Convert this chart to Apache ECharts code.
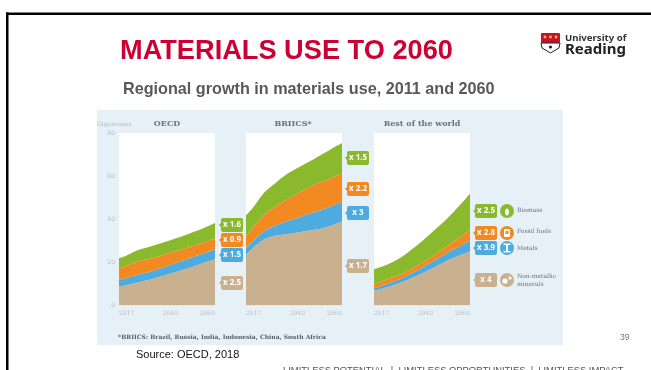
<!DOCTYPE html>
<html>
<head>
<meta charset="utf-8">
<style>html,body{margin:0;padding:0;background:#fff}#c{width:651px;height:370px}</style>
<script src="https://cdn.jsdelivr.net/npm/echarts@6/dist/echarts.min.js"></script>
</head>
<body>
<div id="c"></div>
<script>
// Material use by region, gigatonnes per layer
const years = [2017, 2020, 2025, 2030, 2035, 2040, 2045, 2050, 2055, 2060];
const tickYears = [2017, 2040, 2060];
const regions = ['OECD', 'BRIICS*', 'Rest of the world'];
const materials = ['Non-metallic minerals', 'Metals', 'Fossil fuels', 'Biomass'];

const oecdMinerals = [8.8, 9.4, 10.6, 11.8, 13.2, 14.8, 16.4, 18, 19.8, 21.5];
const oecdMetals = [3, 3.2, 3.6, 3.6, 3.8, 4, 4.2, 4.4, 4.4, 4.5];
const oecdFossil = [5.4, 5.6, 6.2, 6, 5.8, 5.7, 5.4, 5.2, 5.1, 5];
const oecdBiomass = [4.8, 4.8, 5.1, 5.6, 5.8, 5.8, 6, 6.4, 6.7, 7.3];

const briicsMinerals = [23.5, 26.6, 30.5, 32.3, 33, 33.9, 34.8, 35.5, 37, 39];
const briicsMetals = [3.1, 3.1, 3.8, 4.7, 6, 6.7, 7.8, 8.5, 9, 9];
const briicsFossil = [5.4, 6.2, 7.7, 8.8, 10, 11.4, 12.1, 13, 13, 13.2];
const briicsBiomass = [9.8, 9.3, 10.2, 10.8, 11.7, 11.8, 11.9, 12.5, 13.5, 14.2];

const restMinerals = [6.9, 7.6, 9.2, 11, 13.2, 15.7, 18.2, 21, 23.1, 25];
const restMetals = [1.1, 1.3, 1.6, 1.9, 2.3, 2.7, 3.2, 3.6, 4.2, 5.1];
const restFossil = [2, 2.1, 2.2, 2.1, 2.2, 2.3, 2.6, 3.1, 3.9, 4.9];
const restBiomass = [6.8, 6.8, 7, 8, 9.2, 10.5, 11.8, 12.9, 14.8, 16.8];

// Growth multipliers, listed top to bottom of each stack
const oecdFactors = ['x 1.6', 'x 0.9', 'x 1.5', 'x 2.5'];
const briicsFactors = ['x 1.5', 'x 2.2', 'x 3', 'x 1.7'];
const restFactors = ['x 2.5', 'x 2.8', 'x 3.9', 'x 4'];

const regionData = [
  [oecdMinerals, oecdMetals, oecdFossil, oecdBiomass],
  [briicsMinerals, briicsMetals, briicsFossil, briicsBiomass],
  [restMinerals, restMetals, restFossil, restBiomass]
];
const colors = ['#c9b08f', '#4dabdf', '#f28a21', '#8ab92d'];
const factorColors = ['#8ab92d', '#f28a21', '#4dabdf', '#c9b08f'];
const plotLefts = [119, 246, 374];
const plotWidth = 96;
const serif = '"DejaVu Serif"';

const grids = [], xAxes = [], yAxes = [], series = [];
regions.forEach((name, r) => {
  grids.push({ left: plotLefts[r], width: plotWidth, top: 133, height: 172.5,
    show: true, backgroundColor: '#fff', borderWidth: 0 });
  xAxes.push({ type: 'value', gridIndex: r, min: 2017, max: 2060,
    splitLine: { show: false }, axisLine: { show: false }, axisTick: { show: false },
    axisLabel: { customValues: tickYears, formatter: v => String(v), alignMinLabel: 'left', alignMaxLabel: 'right',
      color: '#b4bcc2', fontSize: 6, fontFamily: serif, margin: 5 } });
  yAxes.push({ type: 'value', gridIndex: r, min: 0, max: 80, interval: 20,
    splitLine: { show: false }, axisLine: { show: false }, axisTick: { show: false },
    axisLabel: { show: r === 0, color: '#b4bcc2', fontSize: 6, fontFamily: serif, margin: 4 } });
  materials.forEach((m, i) => {
    // The tonnage comes first in each row so the stack accumulates it, not the year
    series.push({ type: 'line', name: m, xAxisIndex: r, yAxisIndex: r, stack: name,
      smooth: 0.35, symbol: 'none', lineStyle: { width: 0 },
      areaStyle: { color: colors[i], opacity: 1 },
      encode: { x: 1, y: 0 },
      data: years.map((y, k) => [regionData[r][i][k], y]) });
  });
});

const graphics = [];
const text = (x, y, str, font, fill, align) => graphics.push({ type: 'text', x, y, z: 20,
  style: { text: str, font, fill, textAlign: align || 'left', textVerticalAlign: 'middle' } });
const rect = (x, y, w, h, fill, r, z) => graphics.push({ type: 'rect', z: z === undefined ? 20 : z,
  shape: { x, y, width: w, height: h, r: r || 0 }, style: { fill } });
const circle = (cx, cy, r, fill) => graphics.push({ type: 'circle', z: 21, shape: { cx, cy, r }, style: { fill } });

// Slide frame and page furniture
rect(6, 12.5, 645, 2.5, '#000');
rect(6, 12.5, 2.5, 357.5, '#000');
rect(97, 110, 466, 235, '#e6f0f7', 0, -10);

text(120, 52, 'MATERIALS USE TO 2060', 'bold 27.2px "Liberation Sans"', '#cc0033');
text(123, 89.5, 'Regional growth in materials use, 2011 and 2060', 'bold 16.2px "Liberation Sans"', '#58595b');
text(136, 355, 'Source: OECD, 2018', '11px "Liberation Sans"', '#111');
text(620, 338, '39', '8.5px "Liberation Sans"', '#777');
text(283, 370, 'LIMITLESS POTENTIAL  |  LIMITLESS OPPORTUNITIES  |  LIMITLESS IMPACT', '9.4px "Liberation Sans"', '#555');

// University crest and wordmark
rect(541, 33, 19, 10, '#c8102e', 1);
[545, 550.5, 556].forEach(x => circle(x, 37, 1.4, '#e9c43a'));
graphics.push({ type: 'polygon', z: 20, shape: { points: [[541, 43], [560, 43], [559, 48], [550.5, 53], [542, 48]] },
  style: { fill: '#fff', stroke: '#222', lineWidth: 1 } });
circle(550.5, 47, 1.6, '#222');
text(565, 38, 'University of', 'bold 9.6px "Noto Sans"', '#333');
text(565, 50, 'Reading', 'bold 15px "Noto Sans"', '#222');

// Chart headings
text(97, 124, 'Gigatonnes', '6px ' + serif, '#b4bcc2');
[167, 293, 422].forEach((x, r) => text(x, 124, regions[r], 'bold 8px ' + serif, '#6a737a', 'center'));
text(118, 337, '*BRIICS: Brazil, Russia, India, Indonesia, China, South Africa', 'bold 6px ' + serif, '#555e66');

// Multiplier badges beside each stack
const badge = (x, cy, label, fill) => {
  rect(x, cy - 7, 22, 14, fill, 2);
  graphics.push({ type: 'polygon', z: 20, shape: { points: [[x, cy - 2], [x - 2, cy], [x, cy + 2]] }, style: { fill } });
  text(x + 11, cy, label, 'bold 8px "Open Sans"', '#fff', 'center');
};
const badgeColumns = [
  { x: 221, ys: [225, 240, 255, 283], labels: oecdFactors },
  { x: 347, ys: [158, 189, 213, 266], labels: briicsFactors },
  { x: 475, ys: [211, 233, 248, 280], labels: restFactors }
];
badgeColumns.forEach(col => col.ys.forEach((y, i) => badge(col.x, y, col.labels[i], factorColors[i])));

// Key: icons and material names
const keyYs = [211, 233, 248, 280];
keyYs.forEach((y, i) => circle(507, y, 7, factorColors[i]));
graphics.push({ type: 'ellipse', z: 22, shape: { cx: 507, cy: 212, rx: 2, ry: 3.5 }, style: { fill: '#fff' } });
rect(504, 229, 6, 8, '#fff', 1, 22);
rect(505.5, 231, 3, 3, '#f28a21', 0, 23);
rect(503.5, 243.5, 7, 1.5, '#fff', 0, 22);
rect(506, 244, 2, 8, '#fff', 0, 22);
rect(503.5, 251, 7, 1.5, '#fff', 0, 22);
circle(505, 281, 2.6, '#fff');
circle(510, 278, 1.6, '#fff');
const keyFont = '6px ' + serif;
text(517, 210, materials[3], keyFont, '#68727a');
text(517, 231, materials[2], keyFont, '#68727a');
text(517, 248, materials[1], keyFont, '#68727a');
text(517, 276, 'Non-metallic', keyFont, '#68727a');
text(517, 284, 'minerals', keyFont, '#68727a');

const chart = echarts.init(document.getElementById('c'), null, { renderer: 'canvas' });
chart.setOption({
  animation: false,
  backgroundColor: '#fff',
  grid: grids,
  xAxis: xAxes,
  yAxis: yAxes,
  series,
  graphic: { elements: graphics }
});
</script>
</body>
</html>
